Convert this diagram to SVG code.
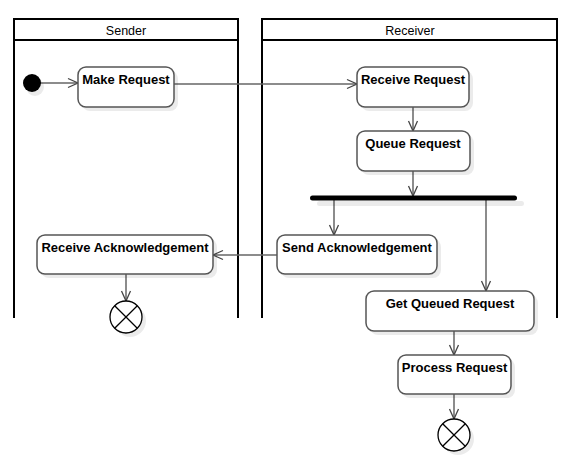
<svg xmlns="http://www.w3.org/2000/svg" width="575" height="463" viewBox="0 0 575 463">
<defs>
<style>
.lane{fill:none;stroke:#000;stroke-width:2}
.hdr{font-family:"Liberation Sans",Arial,sans-serif;font-size:12.5px;fill:#000;text-anchor:middle}
.node{fill:#fff;stroke:#555;stroke-width:1.5}
.shadow{fill:#000;opacity:0.08}
.lbl{font-family:"Liberation Sans",Arial,sans-serif;font-size:13px;font-weight:bold;fill:#000;text-anchor:middle}
.edge{fill:none;stroke:#666;stroke-width:1.5}
.fin{fill:#fff;stroke:#000;stroke-width:1.3}
</style>
<marker id="arr" markerUnits="userSpaceOnUse" markerWidth="12" markerHeight="12" viewBox="0 0 12 12" refX="11" refY="6" orient="auto">
<path d="M1,1.5 L11,6 L1,10.5" fill="none" stroke="#444" stroke-width="1.3"/>
</marker>
</defs>

<g id="lane-sender">
<path class="lane" d="M14,318 V19 H238 V318 M14,40 H238"/>
<text class="hdr" x="126" y="35">Sender</text>
</g>
<g id="lane-receiver">
<path class="lane" d="M262,318 V19 H557 V318 M262,40 H557"/>
<text class="hdr" x="410" y="35">Receiver</text>
</g>

<g id="connectors">
<line class="edge" x1="40" y1="83" x2="78" y2="83" marker-end="url(#arr)"/>
<line class="edge" x1="174" y1="84" x2="357" y2="84" marker-end="url(#arr)"/>
<line class="edge" x1="413" y1="107" x2="413" y2="131" marker-end="url(#arr)"/>
<line class="edge" x1="413" y1="171" x2="413" y2="196" marker-end="url(#arr)"/>
<line class="edge" x1="334" y1="200" x2="334" y2="235" marker-end="url(#arr)"/>
<line class="edge" x1="486" y1="200" x2="486" y2="291" marker-end="url(#arr)"/>
<line class="edge" x1="277" y1="255" x2="213" y2="255" marker-end="url(#arr)"/>
<line class="edge" x1="126" y1="274" x2="126" y2="301" marker-end="url(#arr)"/>
<line class="edge" x1="454" y1="331" x2="454" y2="355" marker-end="url(#arr)"/>
<line class="edge" x1="454" y1="394" x2="454" y2="419" marker-end="url(#arr)"/>
</g>

<g id="initial">
<circle class="shadow" cx="35" cy="87" r="9"/>
<circle cx="32" cy="83" r="9" fill="#000"/>
</g>

<g id="make-request">
<rect class="shadow" x="82" y="71" width="96" height="40" rx="8"/>
<rect class="node" x="78" y="67" width="96" height="40" rx="8"/>
<text class="lbl" x="126" y="84">Make Request</text>
</g>

<g id="receive-request">
<rect class="shadow" x="361" y="71" width="112" height="40" rx="8"/>
<rect class="node" x="357" y="67" width="112" height="40" rx="8"/>
<text class="lbl" x="413" y="84">Receive Request</text>
</g>

<g id="queue-request">
<rect class="shadow" x="361" y="135" width="113" height="40" rx="8"/>
<rect class="node" x="357" y="131" width="113" height="40" rx="8"/>
<text class="lbl" x="413" y="148">Queue Request</text>
</g>

<g id="fork">
<rect class="shadow" x="317" y="201" width="207" height="5" rx="2.5"/>
<rect x="310" y="195.5" width="207" height="5" rx="2.5" fill="#000"/>
</g>

<g id="send-ack">
<rect class="shadow" x="281" y="239" width="160" height="39" rx="8"/>
<rect class="node" x="277" y="235" width="160" height="39" rx="8"/>
<text class="lbl" x="357" y="252">Send Acknowledgement</text>
</g>

<g id="receive-ack">
<rect class="shadow" x="41" y="239" width="176" height="39" rx="8"/>
<rect class="node" x="37" y="235" width="176" height="39" rx="8"/>
<text class="lbl" x="125" y="252">Receive Acknowledgement</text>
</g>

<g id="final-sender">
<circle class="shadow" cx="130" cy="321" r="16"/>
<circle class="fin" cx="126" cy="317" r="16"/>
<path d="M114.7,305.7 L137.3,328.3 M137.3,305.7 L114.7,328.3" stroke="#000" stroke-width="1.3"/>
</g>

<g id="get-queued">
<rect class="shadow" x="370" y="295" width="168" height="40" rx="8"/>
<rect class="node" x="366" y="291" width="168" height="40" rx="8"/>
<text class="lbl" x="450" y="308">Get Queued Request</text>
</g>

<g id="process-request">
<rect class="shadow" x="402" y="359" width="113" height="39" rx="8"/>
<rect class="node" x="398" y="355" width="113" height="39" rx="8"/>
<text class="lbl" x="454.5" y="372">Process Request</text>
</g>

<g id="final-receiver">
<circle class="shadow" cx="458" cy="439" r="16"/>
<circle class="fin" cx="454" cy="435" r="16"/>
<path d="M442.7,423.7 L465.3,446.3 M465.3,423.7 L442.7,446.3" stroke="#000" stroke-width="1.3"/>
</g>
</svg>
